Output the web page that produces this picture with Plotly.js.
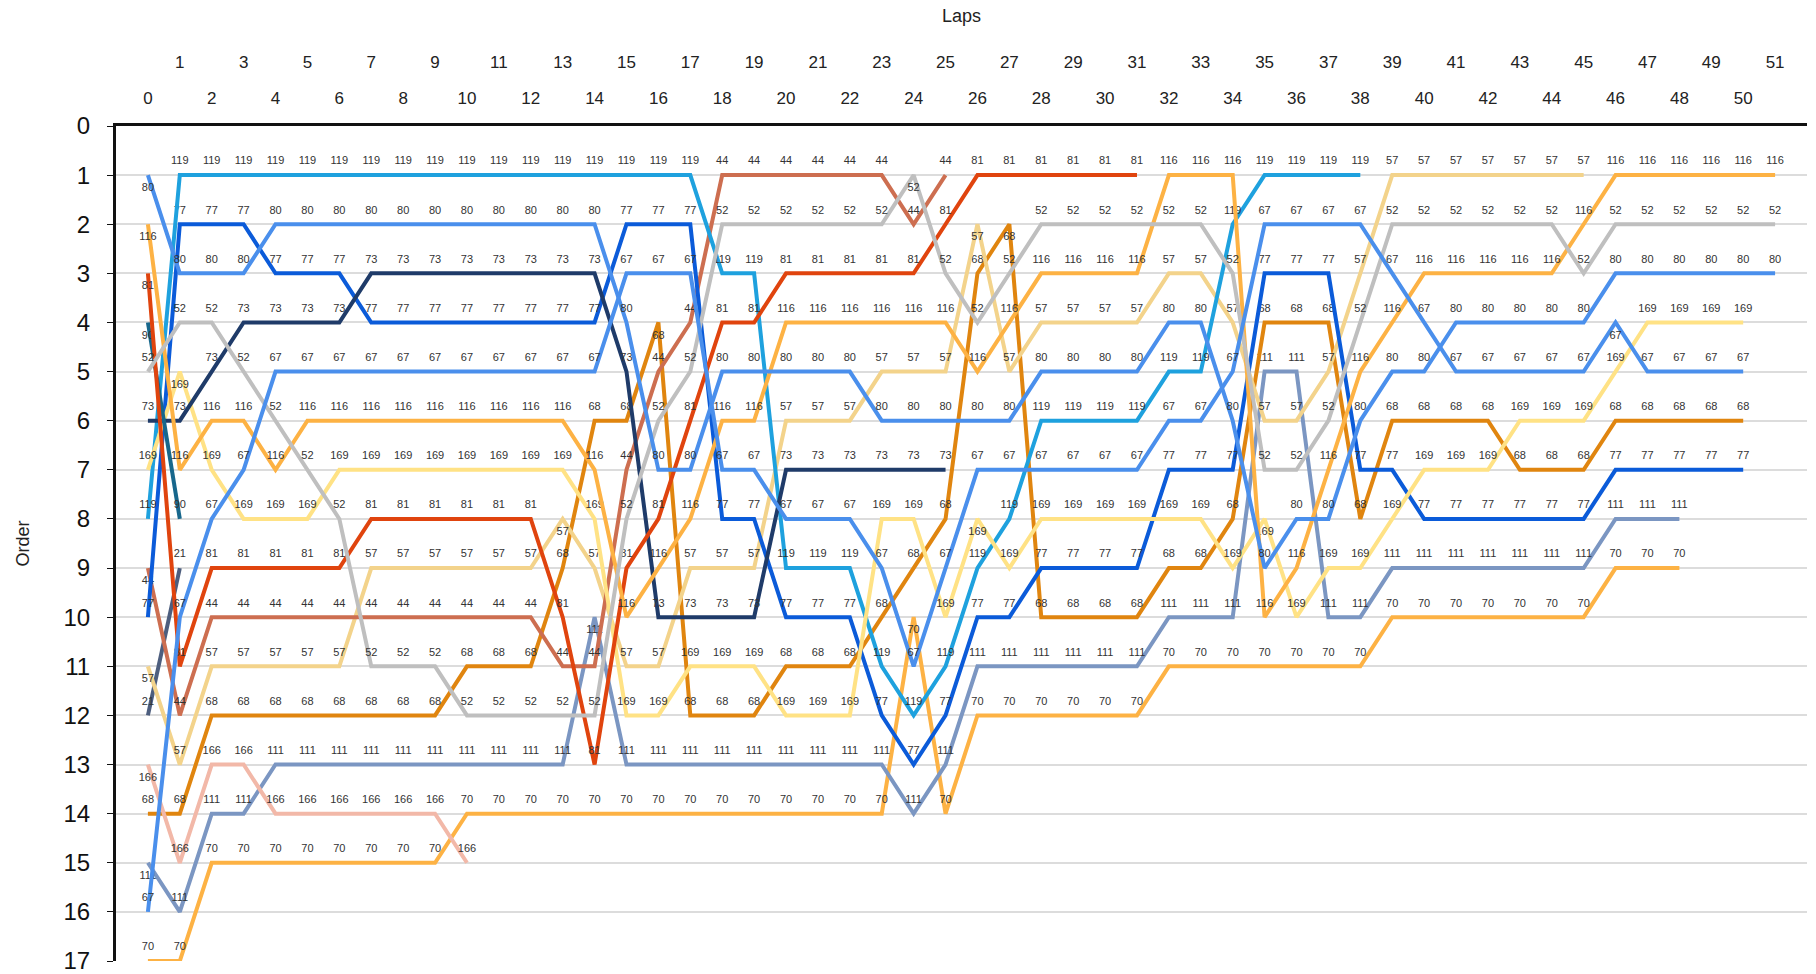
<!DOCTYPE html>
<html>
<head>
<meta charset="utf-8">
<script src="https://cdn.plot.ly/plotly-3.0.1.min.js"></script>
<style>
html,body{margin:0;padding:0;background:#fff;}
#chart{width:1816px;height:974px;}
</style>
</head>
<body>
<div id="chart"></div>
<script>
// Lap numbers (x categories)
const laps = [0,1,2,3,4,5,6,7,8,9,10,11,12,13,14,15,16,17,18,19,20,21,22,23,24,25,
              26,27,28,29,30,31,32,33,34,35,36,37,38,39,40,41,42,43,44,45,46,47,48,49,50,51];
const evenLapTicks = [0,2,4,6,8,10,12,14,16,18,20,22,24,26,28,30,32,34,36,38,40,42,44,46,48,50];
const oddLapTicks  = [1,3,5,7,9,11,13,15,17,19,21,23,25,27,29,31,33,35,37,39,41,43,45,47,49,51];
const orderTicks = [0,1,2,3,4,5,6,7,8,9,10,11,12,13,14,15,16,17];

// Running order of each car, one value per lap starting at lap 0
const car119 = [8,1,1,1,1,1,1,1,1,1,1,1,1,1,1,1,1,1,3,3,9,9,9,11,12,11,9,8,6,6,6,6,5,5,2,1,1,1,1];
const car80  = [1,3,3,3,2,2,2,2,2,2,2,2,2,2,2,4,7,7,5,5,5,5,5,6,6,6,6,6,5,5,5,5,4,4,6,9,8,8,6,5,5,4,4,4,4,4,3,3,3,3,3,3];
const car77  = [10,2,2,2,3,3,3,4,4,4,4,4,4,4,4,2,2,2,8,8,10,10,10,12,13,12,10,10,9,9,9,9,7,7,7,3,3,3,7,7,8,8,8,8,8,8,7,7,7,7,7];
const car73  = [6,6,5,4,4,4,4,3,3,3,3,3,3,3,3,5,10,10,10,10,7,7,7,7,7,7];
const car52  = [5,4,4,5,6,7,8,11,11,11,12,12,12,12,12,8,6,5,2,2,2,2,2,2,1,3,4,3,2,2,2,2,2,2,3,7,7,6,4,2,2,2,2,2,2,3,2,2,2,2,2,2];
const car116 = [2,7,6,6,7,6,6,6,6,6,6,6,6,6,7,10,9,8,6,6,4,4,4,4,4,4,5,4,3,3,3,3,1,1,1,10,9,7,5,4,3,3,3,3,3,2,1,1,1,1,1,1];
const car67  = [16,10,8,7,5,5,5,5,5,5,5,5,5,5,5,3,3,3,7,7,8,8,8,9,11,9,7,7,7,7,7,7,6,6,5,2,2,2,2,3,4,5,5,5,5,5,4,5,5,5,5];
const car169 = [7,5,7,8,8,8,7,7,7,7,7,7,7,7,8,12,12,11,11,11,12,12,12,8,8,10,8,9,8,8,8,8,8,8,9,8,10,9,9,8,7,7,7,6,6,6,5,4,4,4,4];
const car81  = [3,11,9,9,9,9,9,8,8,8,8,8,8,10,13,9,8,6,4,4,3,3,3,3,3,2,1,1,1,1,1,1];
const car90  = [4,8];
const car21  = [12,9];
const car44  = [9,12,10,10,10,10,10,10,10,10,10,10,10,11,11,7,5,4,1,1,1,1,1,1,2,1];
const car57  = [11,13,11,11,11,11,11,9,9,9,9,9,9,8,9,11,11,9,9,9,6,6,6,5,5,5,2,5,4,4,4,4,3,3,4,6,6,5,3,1,1,1,1,1,1,1];
const car68  = [14,14,12,12,12,12,12,12,12,12,11,11,11,9,6,6,4,12,12,12,11,11,11,10,9,8,3,2,10,10,10,10,9,9,8,4,4,4,8,6,6,6,6,7,7,7,6,6,6,6,6];
const car166 = [13,15,13,13,14,14,14,14,14,14,15];
const car111 = [15,16,14,14,13,13,13,13,13,13,13,13,13,13,10,13,13,13,13,13,13,13,13,13,14,13,11,11,11,11,11,11,10,10,10,5,5,10,10,9,9,9,9,9,9,9,8,8,8];
const car70  = [17,17,15,15,15,15,15,15,15,15,14,14,14,14,14,14,14,14,14,14,14,14,14,14,10,14,12,12,12,12,12,12,11,11,11,11,11,11,11,10,10,10,10,10,10,10,9,9,9];

// Cars in drawing order (bottom first)
const carNames = ['70','111','68','166','21','57','44','77','119','169','73','90','81','116','52','80','67'];
const carPositions = {
  '119': car119, '80': car80, '77': car77, '73': car73, '52': car52, '116': car116,
  '67': car67, '169': car169, '81': car81, '90': car90, '21': car21, '44': car44,
  '57': car57, '68': car68, '166': car166, '111': car111, '70': car70
};
const carColors = {
  '119': '#1ea1de', '80': '#4a8fec', '67': '#4a8fec', '77': '#0b5bd9', '73': '#1f3b69',
  '52': '#bfbfbf', '116': '#fdb244', '70': '#fdb244', '169': '#ffe285', '81': '#e0440e',
  '44': '#cd6e50', '57': '#f3d38b', '68': '#e0850f', '111': '#7b96c2', '166': '#f2b8a8',
  '90': '#17678c', '21': '#4d5e7e'
};

const FONT = '"Liberation Sans", Arial, sans-serif';

// Label goes under the point when the line peaks there (neighbours further down)
function labelPositions(p) {
  return p.map((v, i) => {
    const prev = i > 0 ? p[i - 1] : null;
    const next = i < p.length - 1 ? p[i + 1] : null;
    const isPeak = next !== null && next > v && (prev === null || prev > v);
    return isPeak ? 'bottom center' : 'top center';
  });
}

const traces = carNames.map(name => {
  const p = carPositions[name];
  return {
    type: 'scatter',
    x: laps.slice(0, p.length),
    y: p,
    text: p.map(() => name),
    textposition: labelPositions(p),
    mode: 'lines+markers+text',
    line: {color: carColors[name], width: 4},
    marker: {size: 11, opacity: 0, color: carColors[name]},
    textfont: {family: FONT, size: 11, color: '#333'},
    cliponaxis: false,
    hoverinfo: 'skip',
    showlegend: false,
    name: name
  };
});

// helper trace so the second (odd lap) tick row is drawn
traces.push({type: 'scatter', x: [0], y: [0], xaxis: 'x2', yaxis: 'y', mode: 'lines',
             hoverinfo: 'skip', showlegend: false});

const layout = {
  width: 1816, height: 974,
  margin: {l: 116, r: 9, t: 126, b: 13, pad: 0},
  paper_bgcolor: '#fff', plot_bgcolor: '#fff',
  font: {family: FONT, color: '#222'},
  showlegend: false,
  xaxis: {
    range: [-1, 52], side: 'top', tickmode: 'array', tickvals: evenLapTicks,
    ticks: '', showgrid: false, zeroline: false,
    showline: true, linecolor: '#111', linewidth: 3,
    tickfont: {family: FONT, size: 17, color: '#222'},
    ticklabelstandoff: 12, fixedrange: true
  },
  xaxis2: {
    overlaying: 'x', matches: 'x', range: [-1, 52], side: 'top', anchor: 'y',
    tickmode: 'array', tickvals: oddLapTicks, ticks: '',
    showgrid: false, zeroline: false, showline: false,
    tickfont: {family: FONT, size: 17, color: '#222'},
    ticklabelstandoff: 54,
    title: {text: 'Laps', font: {family: FONT, size: 18, color: '#222'}, standoff: 25}
  },
  yaxis: {
    range: [17, 0], tickmode: 'array', tickvals: orderTicks,
    showgrid: true, gridcolor: '#dcdcdc', gridwidth: 2, zeroline: false,
    showline: true, linecolor: '#111', linewidth: 3,
    ticks: 'outside', ticklen: 6, tickcolor: '#111', tickwidth: 1,
    ticklabelstandoff: 12, ticklabeloverflow: 'allow',
    tickfont: {family: FONT, size: 24, color: '#111'},
    title: {text: 'Order', font: {family: FONT, size: 18, color: '#222'}, standoff: 30},
    fixedrange: true
  }
};

Plotly.newPlot('chart', traces, layout, {displayModeBar: false, staticPlot: true});
</script>
</body>
</html>
